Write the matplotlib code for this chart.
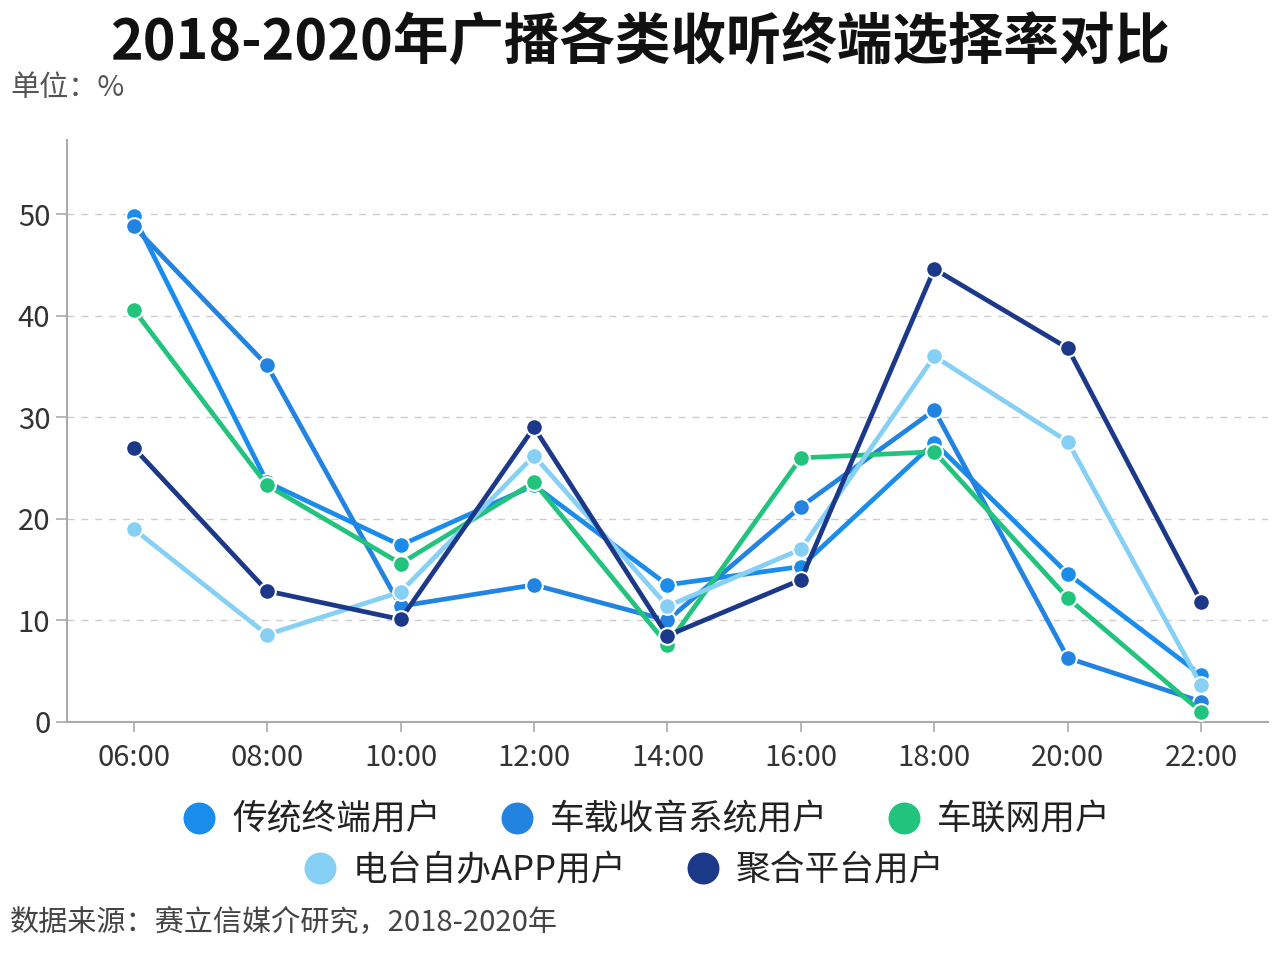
import matplotlib
matplotlib.use("Agg")
import matplotlib.pyplot as plt
from matplotlib.lines import Line2D

plt.rcParams['font.family'] = ['Noto Sans CJK SC', 'DejaVu Sans']

# data (unit: %)
times = ['06:00', '08:00', '10:00', '12:00', '14:00', '16:00', '18:00', '20:00', '22:00']
traditional = [49.8, 23.6, 17.4, 23.3, 13.5, 15.3, 27.5, 14.6, 4.6]
car_radio = [48.8, 35.1, 11.4, 13.5, 10.0, 21.2, 30.7, 6.3, 2.0]
connected_car = [40.6, 23.3, 15.6, 23.6, 7.6, 26.0, 26.6, 12.2, 1.0]
station_app = [19.0, 8.6, 12.8, 26.2, 11.4, 17.0, 36.0, 27.6, 3.6]
aggregator = [27.0, 12.9, 10.1, 29.0, 8.5, 14.0, 44.6, 36.8, 11.8]

names = ['传统终端用户', '车载收音系统用户', '车联网用户', '电台自办APP用户', '聚合平台用户']
series = [traditional, car_radio, connected_car, station_app, aggregator]
colors = ['#1a8cec', '#2284e0', '#21c37d', '#86d0f5', '#1b3889']

fig = plt.figure(figsize=(12.8, 9.56), dpi=100)
fig.patch.set_facecolor('white')
ax = fig.add_axes([0.0523, 0.2448, 0.9383, 0.6088])

x = range(len(times))
for vals, c, n in zip(series, colors, names):
    ax.plot(x, vals, color=c, lw=3.4, marker='o', markersize=12,
            markeredgecolor='white', markeredgewidth=1.5, label=n, zorder=3)

ax.set_xlim(-0.5, len(times) - 0.5)
ax.set_ylim(0, 57.3)
ax.set_yticks([0, 10, 20, 30, 40, 50])
ax.set_xticks(list(x))
ax.set_xticklabels(times)
ax.tick_params(axis='both', labelsize=21, colors='#aaaaaa', labelcolor='#333333')
ax.tick_params(axis='x', length=7, width=1.2, pad=8)
ax.tick_params(axis='y', length=8, width=1.2, pad=4)
ax.grid(axis='y', color='#cccccc', linestyle=(0, (5, 5)), linewidth=1)
ax.set_axisbelow(True)
for s in ['top', 'right']:
    ax.spines[s].set_visible(False)
for s in ['left', 'bottom']:
    ax.spines[s].set_color('#aaaaaa')
    ax.spines[s].set_linewidth(1.5)

fig.text(0.5, 0.955, '2018-2020年广播各类收听终端选择率对比', ha='center', va='center',
         fontsize=40, fontweight='bold', color='#111111')
fig.text(0.008, 0.908, '单位：%', ha='left', va='center', fontsize=21,
         fontweight='medium', color='#555555')
fig.text(0.008, 0.035, '数据来源：赛立信媒介研究，2018-2020年', ha='left', va='center',
         fontsize=21, fontweight='medium', color='#444444')

def handle(c):
    return Line2D([], [], linestyle='none', marker='o', markersize=24, color=c,
                  markeredgecolor='white')

hs = [handle(c) for c in colors]
leg_kw = dict(frameon=False, handlelength=1.0, handletextpad=0.45, columnspacing=1.7,
              labelcolor='#222222', prop={'size': 25, 'weight': 'medium'})
fig.legend(hs[:3], names[:3], ncol=3, loc='center', bbox_to_anchor=(0.505, 0.142), **leg_kw)
fig.legend(hs[3:], names[3:], ncol=2, loc='center', bbox_to_anchor=(0.487, 0.089), **leg_kw)

fig.savefig('out.png', dpi=100, facecolor='white')
